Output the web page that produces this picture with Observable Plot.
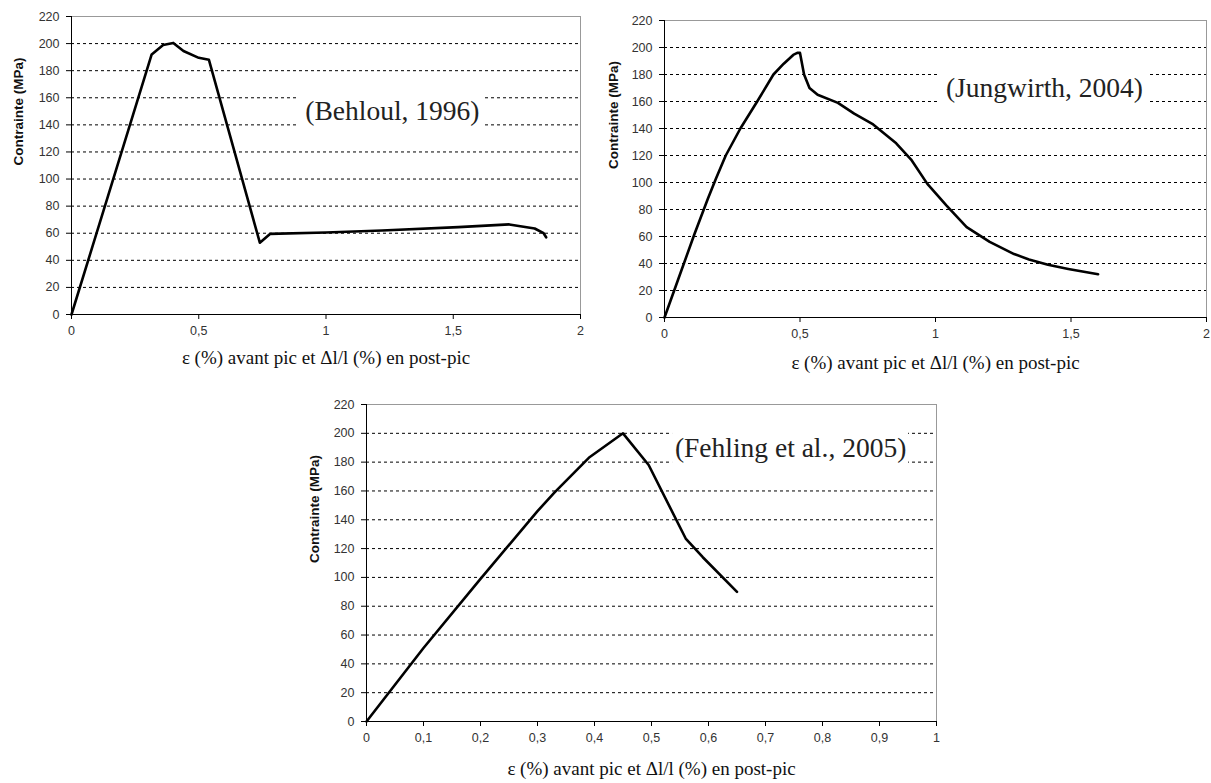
<!DOCTYPE html>
<html><head><meta charset="utf-8">
<script src="https://cdn.jsdelivr.net/npm/d3@7"></script>
<script src="https://cdn.jsdelivr.net/npm/@observablehq/plot@0.6"></script>
<style>
html,body{margin:0;padding:0;background:#fff;}
#wrap{position:relative;width:1211px;height:783px;overflow:hidden;background:#fff;}
.panel{position:absolute;}
</style></head><body><div id="wrap"></div>
<script>
// ---- data (strain % , stress MPa) ----
const behloulStrain = [0, 0.315, 0.36, 0.40, 0.44, 0.50, 0.54, 0.74, 0.78, 1.0, 1.22, 1.52, 1.72, 1.82, 1.855, 1.865];
const behloulStress = [0, 192, 199, 200.5, 194.5, 189.5, 188, 53, 59.5, 60.5, 62, 64.5, 66.5, 63.5, 60, 57];

const jungStrain = [0, 0.05, 0.111, 0.16, 0.19, 0.226, 0.28, 0.342, 0.402, 0.44, 0.475, 0.49, 0.50, 0.515, 0.535, 0.565, 0.64, 0.70, 0.77, 0.855, 0.91, 0.97, 1.04, 1.115, 1.20, 1.29, 1.345, 1.415, 1.49, 1.60];
const jungStress = [0, 28, 62, 88, 103, 120, 140, 160, 180, 188, 194.5, 196, 196, 180, 170, 165, 159, 151, 143, 129, 117, 99, 83, 67, 56, 47, 43, 39, 36, 32];

const fehlingStrain = [0, 0.1, 0.2, 0.3, 0.33, 0.39, 0.45, 0.495, 0.56, 0.59, 0.65];
const fehlingStress = [0, 51, 99, 146, 159, 183, 200, 178, 127, 114, 90];

const yTicks = [0, 20, 40, 60, 80, 100, 120, 140, 160, 180, 200, 220];
const gridValues = [20, 40, 60, 80, 100, 120, 140, 160, 180, 200];
const xTicksWide = [0, 0.5, 1, 1.5, 2];
const xTicksNarrow = [0, 0.1, 0.2, 0.3, 0.4, 0.5, 0.6, 0.7, 0.8, 0.9, 1];

const labelBehloul = {label: "(Behloul, 1996)", x: 1.261, y: 150};
const labelJung = {label: "(Jungwirth, 2004)", x: 1.402, y: 170};
const labelFehling = {label: "(Fehling et al., 2005)", x: 0.744, y: 190};

const yTitle = "Contrainte (MPa)";
const xTitle = "ε (%) avant pic et Δl/l (%) en post-pic";

const zip = (xs, ys) => xs.map((x, i) => ({x, y: ys[i]}));
const fmt = d => String(d).replace(".", ",");

function makePanel(o) {
  const chart = Plot.plot({
    width: o.width, height: o.height,
    marginLeft: o.ml, marginRight: o.mr, marginTop: o.mt, marginBottom: o.mb,
    style: {fontFamily: "'Liberation Sans', Arial, sans-serif", fontSize: "12.5px", background: "white", overflow: "visible"},
    x: {domain: o.xDomain, ticks: o.xTicks},
    y: {domain: [0, 220], ticks: yTicks},
    marks: [
      Plot.frame({stroke: "#999"}),
      Plot.ruleY(gridValues, {stroke: "#000", strokeWidth: 1, strokeDasharray: "3,3"}),
      Plot.rect([o.ann], {x1: "x", x2: "x", y1: "y", y2: "y", fill: "white",
        insetLeft: -o.hw, insetRight: -o.hw, insetTop: -16, insetBottom: -16}),
      Plot.text([o.ann], {x: "x", y: "y", text: "label", fontFamily: "'Liberation Serif', 'Times New Roman', serif",
        fontSize: 27.5, fill: "#222"}),
      Plot.ruleX([o.xDomain[0]], {stroke: "#000", strokeWidth: 1}),
      Plot.ruleY([0], {stroke: "#000", strokeWidth: 1}),
      Plot.line(o.data, {x: "x", y: "y", stroke: "#000", strokeWidth: 2.6, strokeLinejoin: "round"}),
      Plot.axisX({ticks: o.xTicks, tickFormat: fmt, tickSize: 5, tickPadding: 7, label: null, fill: "#333"}),
      Plot.axisY({ticks: yTicks, tickSize: 5, tickPadding: 7, label: null, fill: "#333"}),
      Plot.text([xTitle], {frameAnchor: "bottom", dy: o.xdy, text: d => d,
        fontFamily: "'Liberation Serif', 'Times New Roman', serif", fontSize: 19, fill: "#111"}),
      Plot.text([yTitle], {frameAnchor: "left", dx: o.ydx, text: d => d, rotate: -90,
        fontWeight: "bold", fontSize: 13.5, fill: "#111"})
    ]
  });
  chart.classList.add("panel");
  chart.style.left = o.left + "px";
  chart.style.top = o.top + "px";
  document.getElementById("wrap").appendChild(chart);
}

makePanel({data: zip(behloulStrain, behloulStress), xDomain: [0, 2], xTicks: xTicksWide, ann: labelBehloul, hw: 93,
  left: 0, top: 0, width: 600, height: 380, ml: 71, mr: 20, mt: 16, mb: 66, xdy: 49, ydx: -53});
makePanel({data: zip(jungStrain, jungStress), xDomain: [0, 2], xTicks: xTicksWide, ann: labelJung, hw: 105,
  left: 600, top: 0, width: 611, height: 380, ml: 64, mr: 5, mt: 20, mb: 63, xdy: 51, ydx: -51});
makePanel({data: zip(fehlingStrain, fehlingStress), xDomain: [0, 1], xTicks: xTicksNarrow, ann: labelFehling, hw: 118,
  left: 300, top: 390, width: 650, height: 393, ml: 66, mr: 14, mt: 14, mb: 62, xdy: 53, ydx: -52});
</script></body></html>
